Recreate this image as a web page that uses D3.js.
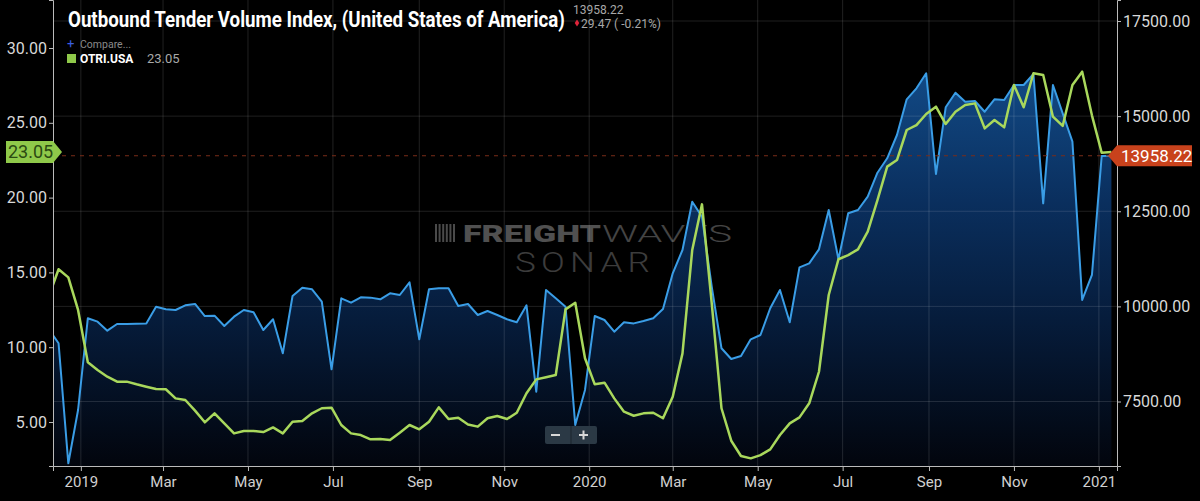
<!DOCTYPE html>
<html>
<head>
<meta charset="utf-8">
<script src="https://cdn.jsdelivr.net/npm/d3@7"></script>
<style>
  html, body { margin: 0; padding: 0; background: #000; }
  svg { display: block; font-family: "Roboto", "Noto Sans", sans-serif; }
</style>
</head>
<body>
<svg id="chart" width="1200" height="501"></svg>
<script>
// weekly readings, first point 2018-12-09
const firstWeek = "2018-12-09";

// Outbound Tender Volume Index (right axis, blue area)
const otvi = [
  9400, 9030, 5876, 7277, 9687, 9598, 9361, 9537, 9537, 9545,
  9553, 9992, 9923, 9905, 10029, 10063, 9747, 9756, 9485, 9729,
  9905, 9845, 9379, 9661, 8767, 10273, 10491, 10449, 10123, 8346,
  10212, 10097, 10238, 10230, 10186, 10344, 10299, 10633, 9135, 10449,
  10475, 10475, 10010, 10063, 9774, 9879, 9774, 9661, 9582, 10029,
  7758, 10431, 10212, 9992, 6883, 7803, 9747, 9642, 9335, 9582,
  9553, 9616, 9687, 9931, 10870, 11482, 12751, 12357, 10517, 8899,
  8617, 8696, 9135, 9248, 9950, 10431, 9582, 11027, 11132, 11500,
  12533, 11237, 12446, 12533, 12883, 13513, 13892, 14504, 15442, 15731,
  16126, 13479, 15232, 15616, 15379, 15398, 15116, 15442, 15424, 15818,
  15818, 16107, 12709, 15818, 15074, 14328, 10168, 10825, 13952, 13958.22
];

// Outbound Tender Reject Index OTRI.USA (left axis, green line)
const otri = [
  13.4, 15.21, 14.67, 12.49, 8.99, 8.48, 8.03, 7.70, 7.70, 7.52,
  7.36, 7.21, 7.19, 6.58, 6.47, 5.76, 4.98, 5.58, 4.91, 4.24,
  4.40, 4.40, 4.33, 4.64, 4.24, 5.02, 5.07, 5.58, 5.92, 5.96,
  4.80, 4.24, 4.13, 3.84, 3.86, 3.80, 4.29, 4.80, 4.51, 5.02,
  5.98, 5.20, 5.29, 4.84, 4.69, 5.25, 5.40, 5.20, 5.62, 6.92,
  7.85, 7.99, 8.14, 12.53, 12.97, 9.26, 7.52, 7.63, 6.58, 5.69,
  5.42, 5.58, 5.62, 5.25, 6.69, 9.59, 16.50, 19.55, 12.93, 5.92,
  3.75, 2.73, 2.57, 2.79, 3.17, 4.13, 4.91, 5.31, 6.25, 8.36,
  13.49, 15.88, 16.16, 16.54, 17.72, 19.84, 22.07, 22.51, 24.52, 24.85,
  25.59, 26.08, 24.92, 25.74, 26.19, 26.30, 24.63, 25.19, 24.70, 27.53,
  26.04, 28.31, 28.20, 25.41, 24.79, 27.53, 28.42, 25.5, 23.0, 23.05
];

const leftTicks = [5, 10, 15, 20, 25, 30];
const rightTicks = [7500, 10000, 12500, 15000, 17500];

const title = "Outbound Tender Volume Index, (United States of America)";
const lastVolume = "13958.22";
const changeText = "29.47 ( -0.21%)";
const otriLabel = "OTRI.USA";
const otriLast = "23.05";

const parse = d3.timeParse("%Y-%m-%d");
const start = parse(firstWeek);
const weeks = otvi.map((_, i) => d3.timeDay.offset(start, 7 * i));

const svg = d3.select("#chart");
const plotL = 53, plotR = 1117, plotT = 0, plotB = 466;

const x = d3.scaleTime()
  .domain([parse("2018-12-12"), parse("2021-01-14")])
  .range([plotL, plotR]);
const yL = d3.scaleLinear().domain([2.06, 33.21]).range([plotB, plotT]);
const yR = d3.scaleLinear().domain([5805, 18052]).range([plotB, plotT]);

svg.append("rect").attr("width", 1200).attr("height", 501).attr("fill", "#000");

const defs = svg.append("defs");
defs.append("clipPath").attr("id", "plot")
  .append("rect").attr("x", plotL).attr("y", plotT)
  .attr("width", plotR - plotL).attr("height", plotB - plotT);

const grad = defs.append("linearGradient").attr("id", "areaFill")
  .attr("gradientUnits", "userSpaceOnUse")
  .attr("x1", 0).attr("x2", 0).attr("y1", 70).attr("y2", plotB);
grad.append("stop").attr("offset", "0%").attr("stop-color", "#124a86");
grad.append("stop").attr("offset", "33%").attr("stop-color", "#0a2f5e");
grad.append("stop").attr("offset", "63%").attr("stop-color", "#061c3b");
grad.append("stop").attr("offset", "100%").attr("stop-color", "#02050d");

// watermark
const wm = svg.append("g").attr("font-family", "Roboto, sans-serif");
wm.append("g").selectAll("rect").data(d3.range(6)).join("rect")
  .attr("x", d => 435 + d * 3.6).attr("y", 224)
  .attr("width", 2).attr("height", 18).attr("fill", "#4a4a4a");
wm.append("text").attr("x", 463).attr("y", 242)
  .attr("font-size", 23).attr("font-weight", 900).attr("fill", "#505050")
  .attr("textLength", 138).attr("lengthAdjust", "spacingAndGlyphs")
  .text("FREIGHT");
wm.append("text").attr("x", 602).attr("y", 242)
  .attr("font-size", 23).attr("font-weight", 300).attr("fill", "#444")
  .attr("textLength", 130).attr("lengthAdjust", "spacingAndGlyphs")
  .text("WAVES");
wm.append("text").attr("x", 515).attr("y", 272)
  .attr("font-size", 27).attr("font-weight", 300).attr("fill", "#3c3c3c")
  .attr("letter-spacing", 4)
  .attr("textLength", 140).attr("lengthAdjust", "spacingAndGlyphs")
  .text("SONAR");

const plot = svg.append("g").attr("clip-path", "url(#plot)");

plot.append("path").datum(otvi)
  .attr("fill", "url(#areaFill)")
  .attr("d", d3.area().x((d, i) => x(weeks[i])).y0(plotB).y1(d => yR(d)));

// grid over the area fill
const monthTicks = x.ticks(d3.timeMonth.every(2));
plot.append("g").selectAll("line").data(monthTicks).join("line")
  .attr("x1", d => x(d)).attr("x2", d => x(d))
  .attr("y1", plotT).attr("y2", plotB)
  .attr("stroke", "#fff").attr("stroke-opacity", 0.13).attr("stroke-width", 1);
plot.append("g").selectAll("line").data(rightTicks).join("line")
  .attr("x1", plotL).attr("x2", plotR)
  .attr("y1", d => yR(d)).attr("y2", d => yR(d))
  .attr("stroke", "#fff").attr("stroke-opacity", 0.12).attr("stroke-width", 1);

plot.append("path").datum(otvi)
  .attr("fill", "none").attr("stroke", "#3a9de6").attr("stroke-width", 2)
  .attr("stroke-linejoin", "round")
  .attr("d", d3.line().x((d, i) => x(weeks[i])).y(d => yR(d)));

// last value reference line
plot.append("line")
  .attr("x1", plotL).attr("x2", plotR)
  .attr("y1", yR(+lastVolume)).attr("y2", yR(+lastVolume))
  .attr("stroke", "#7a2c18").attr("stroke-width", 1.2)
  .attr("stroke-dasharray", "4,5");

plot.append("path").datum(otri)
  .attr("fill", "none").attr("stroke", "#a9d85c").attr("stroke-width", 2.5)
  .attr("stroke-linejoin", "round")
  .attr("d", d3.line().x((d, i) => x(weeks[i])).y(d => yL(d)));

// axes
const fmtMonth = d => d.getMonth() === 0 ? d3.timeFormat("%Y")(d) : d3.timeFormat("%b")(d);
const xAxis = svg.append("g").attr("transform", `translate(0,${plotB})`)
  .call(d3.axisBottom(x).tickValues(monthTicks).tickFormat(fmtMonth).tickSize(5).tickPadding(5));
const leftAxis = svg.append("g").attr("transform", `translate(${plotL},0)`)
  .call(d3.axisLeft(yL).tickValues(leftTicks).tickFormat(d3.format(".2f")).tickSize(4).tickPadding(2));
const rightAxis = svg.append("g").attr("transform", `translate(${plotR},0)`)
  .call(d3.axisRight(yR).tickValues(rightTicks).tickFormat(d3.format(".2f")).tickSize(4).tickPadding(2));

[xAxis, leftAxis, rightAxis].forEach(g => {
  g.selectAll(".domain").attr("stroke", "#bbb");
  g.selectAll(".tick line").attr("stroke", "#bbb");
  g.selectAll("text").attr("fill", "#d8d8d8").attr("font-size", 16)
    .attr("font-family", "Roboto, sans-serif");
});
xAxis.selectAll("text").attr("font-size", 15).attr("fill", "#d0d0d0");

// value tags
const gy = yL(+otriLast);
svg.append("path")
  .attr("d", `M6,${gy - 11}H53L62,${gy}L53,${gy + 11}H6Z`)
  .attr("fill", "#8fc94a");
svg.append("text").attr("x", 8).attr("y", gy + 6.5)
  .attr("font-size", 18).attr("fill", "#2b4a12").text(otriLast);

const ry = yR(+lastVolume);
svg.append("path")
  .attr("d", `M1108,${ry}L1117,${ry - 10.5}H1192V${ry + 10.5}H1117Z`)
  .attr("fill", "#c8421c");
svg.append("text").attr("x", 1121).attr("y", ry + 6)
  .attr("font-size", 17).attr("fill", "#fff").text(lastVolume);

// title (condensed by horizontal scaling) and legend
const titleText = svg.append("text").attr("x", 0).attr("y", 0)
  .attr("font-size", 22).attr("font-weight", 700).attr("fill", "#fff")
  .text(title);
const natural = titleText.node().getComputedTextLength();
titleText.attr("transform", `translate(68,27) scale(${497 / natural},1)`);

svg.append("text").attr("x", 573).attr("y", 14)
  .attr("font-size", 12).attr("fill", "#a8a8a8").text(lastVolume);
svg.append("path").attr("d", "M577,19.5L579.3,23L577,26.5L574.7,23Z").attr("fill", "#e0243a");
svg.append("text").attr("x", 581).attr("y", 28)
  .attr("font-size", 12).attr("fill", "#a8a8a8").text(changeText);

svg.append("text").attr("x", 67).attr("y", 48)
  .attr("font-size", 13).attr("fill", "#3b5fe0").text("+");
svg.append("text").attr("x", 80).attr("y", 48)
  .attr("font-size", 10.5).attr("fill", "#8a8a8a").text("Compare...");
svg.append("rect").attr("x", 67).attr("y", 54).attr("width", 9).attr("height", 9)
  .attr("fill", "#8fc94a");
svg.append("text").attr("x", 80).attr("y", 63)
  .attr("font-size", 12).attr("font-weight", 700).attr("fill", "#fff").text(otriLabel);
svg.append("text").attr("x", 147).attr("y", 63)
  .attr("font-size", 13).attr("fill", "#a8a8a8").text(otriLast);

// zoom buttons
const zb = svg.append("g");
zb.append("rect").attr("x", 545).attr("y", 426).attr("width", 52).attr("height", 18)
  .attr("rx", 2).attr("fill", "#2b3945");
zb.append("line").attr("x1", 571).attr("x2", 571).attr("y1", 426).attr("y2", 444)
  .attr("stroke", "#1c262f");
zb.append("rect").attr("x", 551).attr("y", 434).attr("width", 9).attr("height", 2).attr("fill", "#d8d8d8");
zb.append("rect").attr("x", 579).attr("y", 434).attr("width", 9).attr("height", 2).attr("fill", "#d8d8d8");
zb.append("rect").attr("x", 582.5).attr("y", 430.5).attr("width", 2).attr("height", 9).attr("fill", "#d8d8d8");
</script>
</body>
</html>
